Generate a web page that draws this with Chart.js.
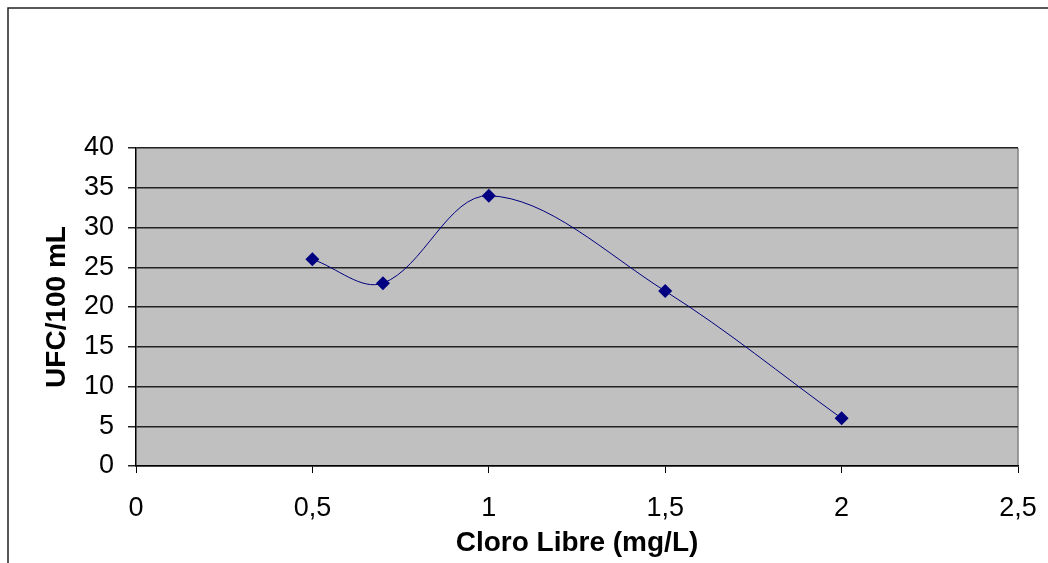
<!DOCTYPE html>
<html>
<head>
<meta charset="utf-8">
<script src="https://cdn.jsdelivr.net/npm/chart.js@4"></script>
<style>
    html, body { margin: 0; padding: 0; background: #ffffff; }
    #wrap { width: 1048px; height: 563px; }
</style>
</head>
<body>
<div id="wrap"><canvas id="chart" width="1048" height="563"></canvas></div>
<script>
// values
const cloroLibre = [0.5, 0.7, 1, 1.5, 2];
const ufcValues = [26, 23, 34, 22, 6];
const xTicks = [0, 0.5, 1, 1.5, 2, 2.5];
const yTicks = [0, 5, 10, 15, 20, 25, 30, 35, 40];

const FONT = 'Arial, "Liberation Sans", sans-serif';

// grey plot area, right edge and the outer frame
const framePlugin = {
    id: 'frame',
    beforeDraw(chart) {
        const { ctx, chartArea: a } = chart;
        ctx.save();
        ctx.fillStyle = '#ffffff';
        ctx.fillRect(0, 0, chart.width, chart.height);
        ctx.fillStyle = '#c0c0c0';
        ctx.fillRect(a.left, a.top, a.right - a.left, a.bottom - a.top);
        ctx.strokeStyle = '#808080';
        ctx.lineWidth = 1.5;
        ctx.beginPath();
        ctx.moveTo(a.right, a.top);
        ctx.lineTo(a.right, a.bottom);
        ctx.stroke();
        // outer chart border (runs off right and bottom)
        ctx.strokeStyle = '#222222';
        ctx.lineWidth = 1.5;
        ctx.beginPath();
        ctx.moveTo(8, chart.height + 5);
        ctx.lineTo(8, 8);
        ctx.lineTo(chart.width + 5, 8);
        ctx.stroke();
        ctx.restore();
    }
};

const data = cloroLibre.map((x, i) => ({ x: x, y: ufcValues[i] }));

new Chart(document.getElementById('chart'), {
    type: 'line',
    data: {
        datasets: [{
            data: data,
            borderColor: '#000080',
            borderWidth: 1,
            backgroundColor: '#000080',
            pointStyle: 'rectRot',
            pointRadius: 7,
            pointBorderWidth: 0,
            tension: 0.35,
            fill: false
        }]
    },
    options: {
        responsive: false,
        animation: false,
        layout: { padding: { top: 148, right: 30, left: 0, bottom: 0 } },
        plugins: {
            legend: { display: false },
            tooltip: { enabled: false }
        },
        scales: {
            x: {
                type: 'linear',
                min: 0,
                max: 2.5,
                afterBuildTicks(scale) { scale.ticks = xTicks.map(v => ({ value: v })); },
                afterFit(scale) {
                    scale.height = 97;
                    scale.paddingLeft = 0;
                    scale.paddingRight = 0;
                },
                ticks: {
                    color: '#000000',
                    font: { family: FONT, size: 27 },
                    padding: 19,
                    maxRotation: 0,
                    callback: v => String(v).replace('.', ',')
                },
                grid: {
                    drawOnChartArea: false,
                    drawTicks: true,
                    tickLength: 7,
                    color: '#000000',
                    lineWidth: 1
                },
                border: { color: '#000000', width: 1.5 },
                title: {
                    display: true,
                    text: 'Cloro Libre (mg/L)',
                    color: '#000000',
                    font: { family: FONT, size: 28, weight: 'bold' },
                    padding: { top: 0, bottom: 3 }
                }
            },
            y: {
                min: 0,
                max: 40,
                afterBuildTicks(scale) { scale.ticks = yTicks.map(v => ({ value: v })); },
                afterFit(scale) {
                    scale.width = 136;
                    scale.paddingTop = 0;
                    scale.paddingBottom = 0;
                },
                ticks: {
                    color: '#000000',
                    font: { family: FONT, size: 27 },
                    padding: 14
                },
                grid: {
                    color: '#222222',
                    lineWidth: 1.5,
                    tickLength: 8
                },
                border: { color: '#000000', width: 1.5 },
                title: {
                    display: true,
                    text: 'UFC/100 mL',
                    color: '#000000',
                    font: { family: FONT, size: 28, weight: 'bold' },
                    padding: { top: 40, bottom: 0 }
                }
            }
        }
    },
    plugins: [framePlugin]
});
</script>
</body>
</html>
